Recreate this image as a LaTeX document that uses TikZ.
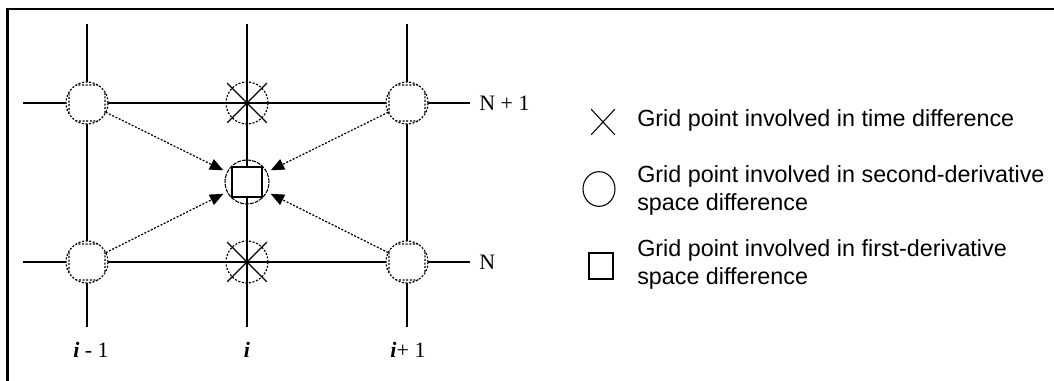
\documentclass[tikz,border=0pt]{standalone}
\usepackage{fontspec}
\setmainfont{Liberation Serif}
\setsansfont{Liberation Sans}
\usetikzlibrary{arrows.meta,calc,shapes.geometric}
\tikzset{
  framebox/.style={draw=black, line width=1.9pt},
  gridline/.style={line width=1.1pt},
  dotline/.style={line width=0.9pt, dash pattern=on 1.5pt off 1.2pt},
  oldpt/.style={
    draw=black, dotline, circle, minimum size=31.5pt,
    inner sep=0pt, outer sep=0pt,
    path picture={
      \draw[dotline, rounded corners=3pt]
        ($(path picture bounding box.center) + (-13.5pt,-13.5pt)$) rectangle ++(27pt,27pt);
    }
  },
  timept/.style={
    draw=black, dotline, circle, minimum size=31.5pt,
    inner sep=0pt, outer sep=0pt
  },
  crossmark/.style={
    inner sep=0pt, outer sep=0pt,
    path picture={
      \draw[line width=0.8pt]
        (path picture bounding box.south west) -- (path picture bounding box.north east)
        (path picture bounding box.north west) -- (path picture bounding box.south east);
    }
  },
  newpt/.style={
    draw=black, line width=1pt, minimum size=22.5pt, inner sep=0pt
  },
  newring/.style={
    draw=black, circle, line width=0.8pt, dash pattern=on 3pt off 0.8pt,
    minimum size=33pt, inner sep=0pt
  },
  fdlink/.style={dotline, -{Triangle[length=10pt, width=8.5pt]}, shorten >=3pt},
  legsym/.style={draw=black, line width=0.8pt, inner sep=0pt},
  legtext/.style={
    anchor=west, align=left, inner sep=0pt,
    font=\sffamily\fontsize{17.5}{20.3}\selectfont
  },
  gridlabel/.style={inner sep=0pt, font=\fontsize{16.5}{19}\selectfont}
}

\begin{document}
\begin{tikzpicture}[x=0.75pt, y=-0.75pt]
\useasboundingbox (0,0) rectangle (1054,381);
\draw[framebox] (7.5,9) rectangle (1090,400);

% grid points
\node[oldpt] (pt_im1_np1) at (87,103) {};
\node[oldpt] (pt_ip1_np1) at (407,103) {};
\node[oldpt] (pt_im1_n) at (87,262) {};
\node[oldpt] (pt_ip1_n) at (407,262) {};
\node[timept] (pt_i_np1) at (247,103) {};
\node[timept] (pt_i_n) at (247,262) {};
\node[crossmark, minimum size=30pt] (x_i_np1) at (pt_i_np1) {};
\node[crossmark, minimum size=30pt] (x_i_n) at (pt_i_n) {};
\node[newpt] (ctr) at (247,182) {};
\node[newring] (ctr_ring) at (ctr) {};

% free ends of the grid lines
\coordinate (top_im1) at (87,24);
\coordinate (top_i) at (247,24);
\coordinate (top_ip1) at (407,24);
\coordinate (bot_im1) at (87,327);
\coordinate (bot_i) at (247,327);
\coordinate (bot_ip1) at (407,327);
\coordinate (left_np1) at (23,103);
\coordinate (right_np1) at (470,103);
\coordinate (left_n) at (23,262);
\coordinate (right_n) at (470,262);

\draw[gridline] (top_im1) -- (pt_im1_np1) -- (pt_im1_n) -- (bot_im1);
\draw[gridline] (top_i) -- (ctr) -- (bot_i);
\draw[gridline] (top_ip1) -- (pt_ip1_np1) -- (pt_ip1_n) -- (bot_ip1);
\draw[gridline] (left_np1) -- (pt_im1_np1) -- (pt_ip1_np1) -- (right_np1);
\draw[gridline] (left_n) -- (pt_im1_n) -- (pt_ip1_n) -- (right_n);

\draw[fdlink] (pt_im1_np1) -- (ctr_ring);
\draw[fdlink] (pt_ip1_np1) -- (ctr_ring);
\draw[fdlink] (pt_im1_n) -- (ctr_ring);
\draw[fdlink] (pt_ip1_n) -- (ctr_ring);

\node[gridlabel, anchor=west] (lab_np1) at (479,103) {N + 1};
\node[gridlabel, anchor=west] (lab_n) at (479,262) {N};
\node[gridlabel] (lab_im1) at (91,350) {{\bfseries\itshape i} - 1};
\node[gridlabel] (lab_i) at (247,350) {\bfseries\itshape i};
\node[gridlabel] (lab_ip1) at (408,350) {{\bfseries\itshape i}+ 1};

% legend
\node[crossmark, minimum width=18pt, minimum height=19.5pt] (leg_time) at (603,122) {};
\node[legtext] (leg_time_txt) at (637,120) {Grid point involved in time difference};
\node[legsym, ellipse, minimum width=24pt, minimum height=26pt] (leg_second) at (599,189) {};
\node[legtext] (leg_second_txt) at (637,190.5) {Grid point involved in second-derivative\\space difference};
\node[legsym, minimum width=18pt, minimum height=19.5pt] (leg_first) at (601,266) {};
\node[legtext] (leg_first_txt) at (637,264.5) {Grid point involved in first-derivative\\space difference};

\end{tikzpicture}
\end{document}
